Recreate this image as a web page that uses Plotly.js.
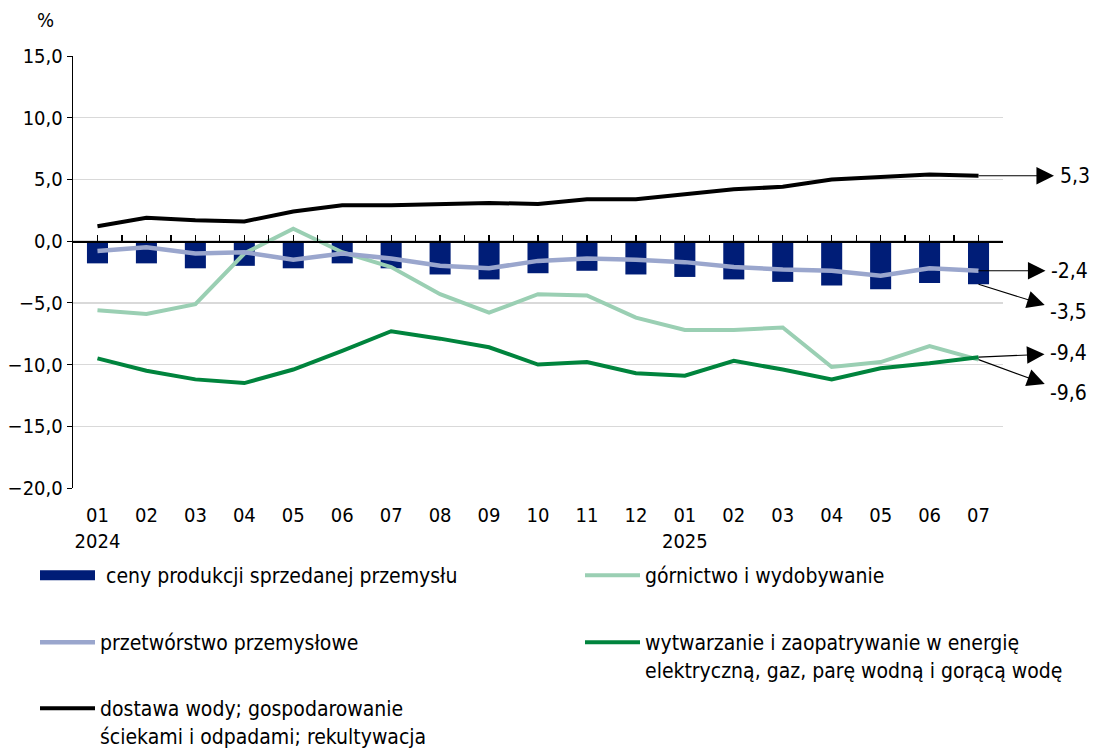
<!DOCTYPE html>
<html>
<head>
<meta charset="utf-8">
<script src="https://cdn.plot.ly/plotly-3.0.1.min.js"></script>
<style>html,body{margin:0;padding:0;background:#fff;}#chart{width:1094px;height:749px;}</style>
</head>
<body>
<div id="chart"></div>
<script>
// ---- data ----
const months = ['01','02','03','04','05','06','07','08','09','10','11','12','01','02','03','04','05','06','07'];
const years  = ['2024','','','','','','','','','','','','2025','','','','','',''];
const ceny        = [-1.8,-1.8,-2.2,-2.0,-2.2,-1.8,-2.2,-2.7,-3.1,-2.6,-2.4,-2.7,-2.9,-3.1,-3.3,-3.6,-3.9,-3.4,-3.5];
const gornictwo   = [-5.6,-5.9,-5.1,-1.0,1.0,-0.9,-2.1,-4.3,-5.8,-4.3,-4.4,-6.2,-7.2,-7.2,-7.0,-10.2,-9.8,-8.5,-9.6];
const przetworstwo= [-0.8,-0.5,-1.0,-0.9,-1.5,-1.0,-1.4,-2.0,-2.2,-1.6,-1.4,-1.5,-1.7,-2.1,-2.3,-2.4,-2.8,-2.2,-2.4];
const wytwarzanie = [-9.5,-10.5,-11.2,-11.5,-10.4,-8.9,-7.3,-7.9,-8.6,-10.0,-9.8,-10.7,-10.9,-9.7,-10.4,-11.2,-10.3,-9.9,-9.4];
const dostawa     = [1.2,1.9,1.7,1.6,2.4,2.9,2.9,3.0,3.1,3.0,3.4,3.4,3.8,4.2,4.4,5.0,5.2,5.4,5.3];
const seriesNames = ['ceny produkcji sprzedanej przemysłu','górnictwo i wydobywanie','przetwórstwo przemysłowe',
  'wytwarzanie i zaopatrywanie w energię<br>elektryczną, gaz, parę wodną i gorącą wodę',
  'dostawa wody; gospodarowanie<br>ściekami i odpadami; rekultywacja'];
const endLabels = ['5,3','-2,4','-3,5','-9,4','-9,6'];

// ---- build ----
const idx = months.map((m,i)=>i);
const tickText = months.map((m,i)=> years[i] ? m+'<br>'+years[i] : m);
const halfTicks = [];
for (let v=-0.5; v<=18.5001; v+=0.5) halfTicks.push(v);
const FONT = "'DejaVu Sans Condensed', 'Liberation Sans Narrow', sans-serif";
const C = {navy:'#001D77', lav:'#9AA6CD', lg:'#9ACFB3', dg:'#00843D', blk:'#000000'};

const traces = [
  {type:'bar', x:idx, y:ceny, name:seriesNames[0], marker:{color:C.navy}, width:0.43, legend:'legend', showlegend:false, hoverinfo:'y'},
  {type:'scatter', mode:'lines', x:[null], y:[null], name:'\u00A0'+seriesNames[0], line:{color:C.navy, width:14}, legend:'legend', hoverinfo:'skip'},
  {type:'scatter', mode:'lines', x:idx, y:gornictwo, name:seriesNames[1], line:{color:C.lg, width:4}, legend:'legend2'},
  {type:'scatter', mode:'lines', x:idx, y:przetworstwo, name:seriesNames[2], line:{color:C.lav, width:4.5}, legend:'legend3'},
  {type:'scatter', mode:'lines', x:idx, y:wytwarzanie, name:seriesNames[3], line:{color:C.dg, width:4}, legend:'legend4'},
  {type:'scatter', mode:'lines', x:idx, y:dostawa, name:seriesNames[4], line:{color:C.blk, width:4}, legend:'legend5'},
  {type:'scatter', mode:'lines', x:[null], y:[null], xaxis:'x2', showlegend:false, hoverinfo:'skip'}
];

const last = idx.length-1;
function arrowAnn(yv, text, ax, ay){
  return {x:last, y:yv, xref:'x', yref:'y', text:text, showarrow:true, arrowside:'start',
    startarrowhead:2, startarrowsize:3.2, arrowwidth:1.1, arrowcolor:'#000', ax:ax, ay:ay,
    standoff:0, startstandoff:4, font:{family:FONT, size:21, color:'#000'}};
}

const legBase = {font:{family:FONT, size:21, color:'#000'}, bgcolor:'rgba(0,0,0,0)', xanchor:'left', yanchor:'top', itemwidth:55, valign:'top', itemclick:false, itemdoubleclick:false};
const L = (px)=> (px-73)/930;
const T = (py)=> (488-py)/432;
const layout = {
  width:1094, height:749,
  margin:{l:73, r:91, t:56, b:261, autoexpand:false},
  paper_bgcolor:'#fff', plot_bgcolor:'#fff',
  separators:',.',
  font:{family:FONT, size:20, color:'#000'},
  showlegend:true,
  xaxis:{range:[-0.5,18.5], tickvals:idx, ticktext:tickText, showgrid:false, zeroline:false, showline:false,
    ticks:'outside', ticklen:9, tickcolor:'rgba(0,0,0,0)', tickfont:{family:FONT, size:20}, fixedrange:true},
  xaxis2:{overlaying:'x', anchor:'free', position:20/35, range:[-0.5,18.5], tickvals:halfTicks, showticklabels:false,
    ticks:'inside', ticklen:6, tickwidth:1.3, tickcolor:'#000', showline:true, linecolor:'#000', linewidth:1.5, showgrid:false, zeroline:false},
  yaxis:{range:[-20,15], dtick:5, tick0:0, tickformat:'.1f', showgrid:true, gridcolor:'#d9d9d9', gridwidth:1.5, zeroline:false,
    showline:true, linecolor:'#000', linewidth:1.3, ticks:'outside', ticklen:5, tickcolor:'#000', tickfont:{family:FONT, size:20}, fixedrange:true},
  legend: Object.assign({}, legBase, {x:L(35), y:T(555)}),
  legend2: Object.assign({}, legBase, {x:L(580), y:T(555)}),
  legend3: Object.assign({}, legBase, {x:L(35), y:T(622)}),
  legend4: Object.assign({}, legBase, {x:L(580), y:T(622)}),
  legend5: Object.assign({}, legBase, {x:L(35), y:T(688)}),
  annotations:[
    {xref:'paper', yref:'paper', x:L(45), y:T(20), xanchor:'center', yanchor:'middle', text:'%', showarrow:false, font:{family:FONT, size:20}},
    arrowAnn(dostawa[last], endLabels[0], 96, 0),
    arrowAnn(przetworstwo[last], endLabels[1], 91, 0),
    arrowAnn(ceny[last], endLabels[2], 90, 28),
    arrowAnn(wytwarzanie[last], endLabels[3], 90, -4),
    arrowAnn(gornictwo[last], endLabels[4], 90, 33)
  ]
};
Plotly.newPlot('chart', traces, layout, {displayModeBar:false, staticPlot:true});
</script>
</body>
</html>
